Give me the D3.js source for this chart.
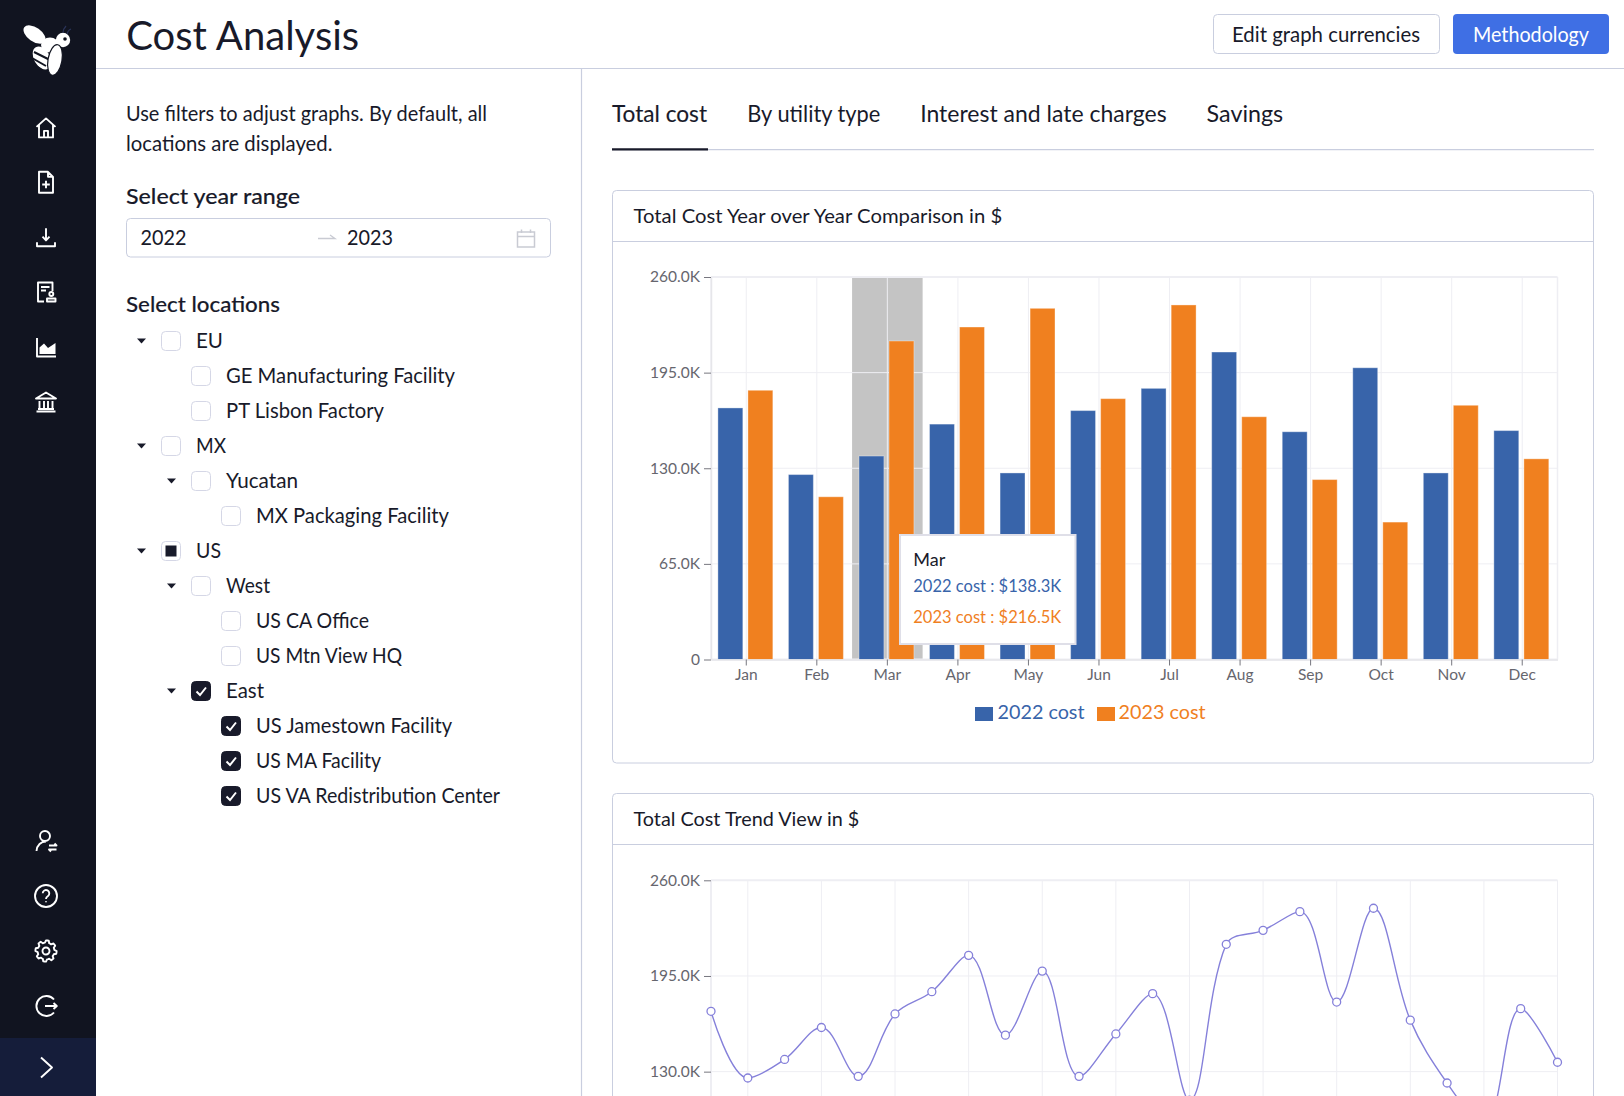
<!DOCTYPE html>
<html><head><meta charset="utf-8">
<script src="https://d3js.org/d3.v7.min.js"></script>
<style>html,body{margin:0;padding:0;background:#fff;overflow:hidden}svg{display:block}text{font-family:Lato,sans-serif}</style>
</head><body><div id="app"></div>
<script>
const months=["Jan","Feb","Mar","Apr","May","Jun","Jul","Aug","Sep","Oct","Nov","Dec"];
const cost2022=[171,125.7,138.3,160,126.8,169.2,184.3,209,154.8,198.3,126.8,155.6];
const cost2023=[183,110.6,216.5,226,238.7,177.3,241,165,122.3,93.4,172.8,136.4];
const barTicks=[0,65,130,195,260];
const trendTicks=[130,195,260];
const seriesNames=["2022 cost","2023 cost"];
const seriesColors=["#3864aa","#f0801f"];
const hoverMonth="Mar";
const tabs=[["Total cost",612,95],["By utility type",747.3,133],["Interest and late charges",920.2,246.5],["Savings",1206.6,76.6]];
const tree=[[0,"EU",0,1,27],[1,"GE Manufacturing Facility",0,0,229],[1,"PT Lisbon Factory",0,0,158],[0,"MX",0,1,30],[1,"Yucatan",0,1,72],[2,"MX Packaging Facility",0,0,193],[0,"US",2,1,25],[1,"West",0,1,44],[2,"US CA Office",0,0,113],[2,"US Mtn View HQ",0,0,146],[1,"East",1,1,38],[2,"US Jamestown Facility",1,0,196],[2,"US MA Facility",1,0,125],[2,"US VA Redistribution Center",1,0,244]];

const W=1624,H=1096;
const svg=d3.select("#app").append("svg").attr("width",W).attr("height",H).attr("viewBox",[0,0,W,H]);
const ink="#181a2a",line="#c9cedf";
function txt(g,x,y,s,size,fill,o={}){
  const t=g.append("text").attr("x",x).attr("y",y+.1).text(s).attr("font-size",size).attr("fill",fill).attr("font-weight",o.w||400);
  if(o.a)t.attr("text-anchor",o.a);
  if(o.len)t.attr("textLength",o.len).attr("lengthAdjust","spacingAndGlyphs");
  if(o.heavy)t.attr("stroke",fill).attr("stroke-width",.15);
  return t;
}
// smooth line curve: tangents along prev-next, weighted by segment length, clamped to the neighbours
function smoothCurve(ctx){
 let pts=[];const s=.36;
 return {areaStart(){},areaEnd(){},lineStart(){pts=[];},point(x,y){pts.push([x,y]);},lineEnd(){
  const n=pts.length,cps=pts.map(()=>null);
  pts.forEach((p,i)=>{
   if(i===0||i===n-1){cps[i]=[p,p];return;}
   const a=pts[i-1],b=pts[i+1],d0=Math.hypot(p[0]-a[0],p[1]-a[1]),d1=Math.hypot(p[0]-b[0],p[1]-b[1]);
   const r=d1/(d0+d1);
   let nx=p[0]+(b[0]-a[0])*s*r,ny=p[1]+(b[1]-a[1])*s*r;
   nx=Math.max(Math.min(nx,Math.max(b[0],p[0])),Math.min(b[0],p[0]));
   ny=Math.max(Math.min(ny,Math.max(b[1],p[1])),Math.min(b[1],p[1]));
   let px=p[0]-(nx-p[0])*d0/d1,py=p[1]-(ny-p[1])*d0/d1;
   px=Math.max(Math.min(px,Math.max(a[0],p[0])),Math.min(a[0],p[0]));
   py=Math.max(Math.min(py,Math.max(a[1],p[1])),Math.min(a[1],p[1]));
   nx=p[0]+(p[0]-px)*d1/d0;ny=p[1]+(p[1]-py)*d1/d0;
   cps[i]=[[px,py],[nx,ny]];
  });
  ctx.moveTo(pts[0][0],pts[0][1]);
  for(let i=1;i<n;i++)ctx.bezierCurveTo(cps[i-1][1][0],cps[i-1][1][1],cps[i][0][0],cps[i][0][1],pts[i][0],pts[i][1]);
 }};
}
// sidebar
const side=svg.append("g");
side.append("rect").attr("width",96).attr("height",H).attr("fill","#111420");
side.append("rect").attr("y",1038).attr("width",96).attr("height",58).attr("fill","#151d3a");
const bee=side.append("g").attr("fill","#fff");
bee.append("ellipse").attr("cx",34.5).attr("cy",34.5).attr("rx",12.5).attr("ry",7).attr("transform","rotate(35 34.5 34.5)");
bee.append("ellipse").attr("cx",50).attr("cy",45).attr("rx",9).attr("ry",7.5);
bee.append("circle").attr("cx",63).attr("cy",40).attr("r",7.2);
bee.append("circle").attr("cx",65).attr("cy",39).attr("r",1.8).attr("fill","#111420");
bee.append("ellipse").attr("cx",42).attr("cy",58).attr("rx",8).attr("ry",12.5).attr("transform","rotate(-30 42 58)");
[[34,52,50,60],[32,58,46,66],[33,64,42,70]].forEach(l=>bee.append("line").attr("x1",l[0]).attr("y1",l[1]).attr("x2",l[2]).attr("y2",l[3]).attr("stroke","#111420").attr("stroke-width",2));
bee.append("ellipse").attr("cx",55).attr("cy",60).attr("rx",7).attr("ry",15.5).attr("stroke","#111420").attr("stroke-width",1.2).attr("transform","rotate(10 55 60)");
bee.append("path").attr("d","M63 33 Q63 29 66 26 M67 34 Q68 30 71 29").attr("fill","none").attr("stroke","#2a3358").attr("stroke-width",1.2);
const gearPts=d3.range(0,48).map(i=>[i/48*2*Math.PI,(i%6)<3?10.6:8.4]);
const icons=[
 [127.4,"M2.5 11.5L12 3L21.5 11.5M5 9.5V22H19V9.5M10 22V15.5H14V22"],
 [182.3,"M5 1.5H14L19 6.5V22.5H5ZM14 1.5V6.5H19M12 10.5V18M8.2 14.2H15.8"],
 [237.2,"M12 3V15M8.5 11.5L12 15.2L15.5 11.5M3 17V21H21V17"],
 [292,"M18.5 11V2.5H4V21.5H10M7 7H15.5M7 10.5H12M13 21.5H21.5V18.5H13ZM17.3 12A2 2 0 1 0 17.3 16A2 2 0 1 0 17.3 12"],
 [347,"M3 3V21.5H22"],
 [402,"M12 2.5L22 8.5H2ZM2.5 21.5H21.5M5.5 11V19M10 11V19M14 11V19M18.5 11V19M4 19H20"],
 [841,"M16 7A5 5 0 1 0 6 7A5 5 0 1 0 16 7M2.5 22C3 16 7 12.5 12 12.5M15 16.5H22.5L20.5 14.5M22.5 20.5H15L17 22.5"],
 [896,"M23 12A11 11 0 1 0 1 12A11 11 0 1 0 23 12M8.7 9.2A3.3 3.3 0 1 1 14 12C12.7 12.8 12 13.5 12 15M12 17.2V18.2"],
 [951,"M15.5 12A3.5 3.5 0 1 0 8.5 12A3.5 3.5 0 1 0 15.5 12"],
 [1006,"M20 5.5A10 10 0 1 0 20 18.5M11 12H22.5M19.5 9L22.8 12L19.5 15"],
 [1068,"M7 1.5L18 11.5L7 21.5"]
];
icons.forEach(ic=>{
 const g=side.append("g").attr("transform",`translate(34,${ic[0]-12})`).attr("fill","none").attr("stroke","#fff").attr("stroke-width",1.9).attr("stroke-linejoin","round");
 g.append("path").attr("d",ic[1]);
 if(ic[0]===951)g.append("path").attr("transform","translate(12,12)").attr("d",d3.lineRadial().curve(d3.curveLinearClosed).angle(d=>d[0]).radius(d=>d[1])(gearPts));
 if(ic[0]===347)g.append("path").attr("d","M5.5 19V12.5L10 8.5L14 13L21.5 8V19Z").attr("fill","#fff").attr("stroke","none");
});
// header
svg.append("line").attr("x1",96).attr("x2",W).attr("y1",68.5).attr("y2",68.5).attr("stroke",line).attr("stroke-width",1.2);
svg.append("line").attr("x1",581.5).attr("x2",581.5).attr("y1",68.5).attr("y2",H).attr("stroke",line).attr("stroke-width",1.2);
txt(svg,126.2,49.5,"Cost Analysis",40,ink,{len:233});
svg.append("rect").attr("x",1213.5).attr("y",14.5).attr("width",226).attr("height",39).attr("rx",4).attr("fill","#fff").attr("stroke",line);
txt(svg,1326,41.5,"Edit graph currencies",20.5,ink,{a:"middle",len:188});
svg.append("rect").attr("x",1453).attr("y",14).attr("width",156).attr("height",40).attr("rx",4).attr("fill","#3f6fe4");
txt(svg,1531,41.5,"Methodology",20.5,"#fff",{a:"middle",len:116});
// left panel
txt(svg,126,121,"Use filters to adjust graphs. By default, all",20.5,ink,{len:361});
txt(svg,126,151,"locations are displayed.",20.5,ink,{len:206.5});
txt(svg,126,204,"Select year range",22,ink,{w:500,len:174,heavy:1});
svg.append("rect").attr("x",126.5).attr("y",218.5).attr("width",424).attr("height",38.5).attr("rx",4).attr("fill","#fff").attr("stroke",line);
txt(svg,140.5,245,"2022",20.5,ink,{len:46});
txt(svg,347,245,"2023",20.5,ink,{len:46});
svg.append("path").attr("d","M318 238.5H335L330 235").attr("fill","none").attr("stroke","#c9cbd3").attr("stroke-width",1.3);
svg.append("path").attr("d","M517.5 232H534.5V247H517.5ZM517.5 236.5H534.5M521.5 229.5V233M530.5 229.5V233").attr("fill","none").attr("stroke","#c9cbd3").attr("stroke-width",1.5);
txt(svg,126,311.7,"Select locations",22,ink,{w:500,len:154,heavy:1});
const rowY=d3.scaleLinear().domain([0,1]).range([341,376]);
const levX=[161,191,221];
tree.forEach((r,i)=>{
 const y=rowY(i),x=levX[r[0]];
 const g=svg.append("g");
 g.append("rect").attr("x",x+.5).attr("y",y-9.5).attr("width",19).attr("height",19).attr("rx",4).attr("fill",r[2]===1?ink:"#fff").attr("stroke",r[2]===1?ink:"#d5d7e6");
 if(r[2]===1)g.append("path").attr("d",`M${x+5.5} ${y+.5}L${x+9} ${y+4}L${x+15} ${y-3.5}`).attr("fill","none").attr("stroke","#fff").attr("stroke-width",2);
 if(r[2]===2)g.append("rect").attr("x",x+4.5).attr("y",y-5.5).attr("width",11).attr("height",11).attr("fill",ink);
 if(r[3])g.append("path").attr("d",`M${x-24} ${y-2.5}h9l-4.5 5z`).attr("fill",ink);
 txt(g,x+35,y+7.3,r[1],20.5,ink,{len:r[4]});
});
// tabs
tabs.forEach((t,i)=>txt(svg,t[1],122,t[0],22.5,ink,{len:t[2],heavy:i===0}));
svg.append("line").attr("x1",612).attr("x2",1594).attr("y1",149.7).attr("y2",149.7).attr("stroke",line).attr("stroke-width",1.2);
svg.append("line").attr("x1",612).attr("x2",708).attr("y1",149.3).attr("y2",149.3).attr("stroke",ink).attr("stroke-width",2.2);
// cards
function card(top,bottom,title,len){
 const g=svg.append("g");
 g.append("rect").attr("x",612.5).attr("y",top).attr("width",981).attr("height",bottom-top).attr("rx",4).attr("fill","#fff").attr("stroke",line);
 g.append("line").attr("x1",612.5).attr("x2",1593.5).attr("y1",top+51).attr("y2",top+51).attr("stroke",line).attr("stroke-width",1.2);
 txt(g,633.5,top+32,title,20,ink,{len});
}
card(190.5,763,"Total Cost Year over Year Comparison in $",368.7);
card(793.5,1130,"Total Cost Trend View in $",225.8);
const L=711,R=1557.5,gridC="#eeeef3",fmt=d=>d===0?"0":d.toFixed(1)+"K";
function styleAxis(a){
 a.select(".domain").attr("stroke","#e6e6ea").attr("stroke-width",1.5);
 a.selectAll(".tick line").attr("stroke","#77777f");
 a.selectAll(".tick text").attr("fill","#66666e").attr("font-size",15.5).attr("font-family","Lato");
}
// bar chart
const x0=d3.scaleBand().domain(months).range([L,R]);
const x1=d3.scaleBand().domain(seriesNames).range([-.9,x0.bandwidth()-.9]).paddingInner(.17).paddingOuter(.26);
const y0=d3.scaleLinear().domain([0,260]).range([659.5,277]);
const c1=svg.append("g");
c1.append("rect").attr("x",x0(hoverMonth)).attr("y",y0(260)).attr("width",x0.bandwidth()).attr("height",y0(0)-y0(260)).attr("fill","#c4c4c4");
barTicks.forEach(t=>c1.append("line").attr("x1",L).attr("x2",R).attr("y1",y0(t)).attr("y2",y0(t)).attr("stroke",gridC).attr("stroke-width",t===260||t===0?2:1));
months.forEach(m=>c1.append("line").attr("x1",x0(m)+x0.bandwidth()/2).attr("x2",x0(m)+x0.bandwidth()/2).attr("y1",y0(0)).attr("y2",y0(260)).attr("stroke",gridC));
[L,R].forEach(v=>c1.append("line").attr("x1",v).attr("x2",v).attr("y1",y0(0)).attr("y2",y0(260)).attr("stroke",gridC).attr("stroke-width",1.5));
[cost2022,cost2023].forEach((vals,k)=>{
 c1.append("g").selectAll("rect").data(vals).join("rect")
  .attr("x",(d,i)=>x0(months[i])+x1(seriesNames[k])).attr("y",d=>y0(d))
  .attr("width",x1.bandwidth()).attr("height",d=>y0(0)-y0(d))
  .attr("fill",seriesColors[k]).attr("stroke","#fff").attr("stroke-opacity",.35);
});
const ax0=c1.append("g").attr("transform",`translate(${L},0)`).call(d3.axisLeft(y0).tickValues(barTicks).tickFormat(fmt).tickSize(7).tickPadding(4).tickSizeOuter(0));
styleAxis(ax0);
const ax1=c1.append("g").attr("transform",`translate(0,${y0(0)})`).call(d3.axisBottom(x0).tickSize(6).tickSizeOuter(0));
styleAxis(ax1);ax1.selectAll(".tick text").attr("dy",".77em");
// legend
[[975,997.5],[1097,1118.6]].forEach((p,k)=>{
 c1.append("rect").attr("x",p[0]).attr("y",707).attr("width",18).attr("height",14).attr("fill",seriesColors[k]);
 txt(c1,p[1],718.5,seriesNames[k],20,seriesColors[k],{len:87});
});
// tooltip
const hi=months.indexOf(hoverMonth),money=v=>"$"+v.toFixed(1)+"K";
const tip=svg.append("g");
tip.append("rect").attr("x",900).attr("y",535).attr("width",175.5).attr("height",109).attr("fill","#fff").attr("stroke","#dfdfe8").attr("stroke-width",2);
txt(tip,913.3,565.7,hoverMonth,17,ink,{len:32});
txt(tip,913.3,591.7,`${seriesNames[0]} : ${money(cost2022[hi])}`,16.5,seriesColors[0],{len:148});
txt(tip,913.3,622.7,`${seriesNames[1]} : ${money(cost2023[hi])}`,16.5,seriesColors[1],{len:148});
// trend
const trend=cost2022.concat(cost2023);
const trendLabels=months.map(m=>m+" 2022").concat(months.map(m=>m+" 2023"));
const xt=d3.scalePoint().domain(trendLabels).range([L,R]);
const yt=d3.scaleLinear().domain([0,260]).range([1263,880.3]);
const c2=svg.append("g");
[65,130,195,260].forEach(t=>c2.append("line").attr("x1",L).attr("x2",R).attr("y1",yt(t)).attr("y2",yt(t)).attr("stroke",gridC).attr("stroke-width",t===260?2:1));
trendLabels.forEach((m,i)=>{if(i%2==1)c2.append("line").attr("x1",xt(m)).attr("x2",xt(m)).attr("y1",yt(260)).attr("y2",H).attr("stroke",gridC);});
c2.append("line").attr("x1",L).attr("x2",L).attr("y1",yt(260)).attr("y2",H).attr("stroke",gridC).attr("stroke-width",2);
const ax2=c2.append("g").attr("transform",`translate(${L},0)`).call(d3.axisLeft(yt).tickValues(trendTicks).tickFormat(fmt).tickSize(7).tickPadding(4).tickSizeOuter(0));
ax2.select(".domain").remove();styleAxis(ax2);
c2.append("path").attr("d",d3.line().x((d,i)=>xt(trendLabels[i])).y(d=>yt(d)).curve(smoothCurve)(trend)).attr("fill","none").attr("stroke","#8580da").attr("stroke-width",1.4);
c2.append("g").selectAll("circle").data(trend).join("circle").attr("cx",(d,i)=>xt(trendLabels[i])).attr("cy",d=>yt(d)).attr("r",4).attr("fill","#fff").attr("stroke","#8580da").attr("stroke-width",1.3);
</script></body></html>
